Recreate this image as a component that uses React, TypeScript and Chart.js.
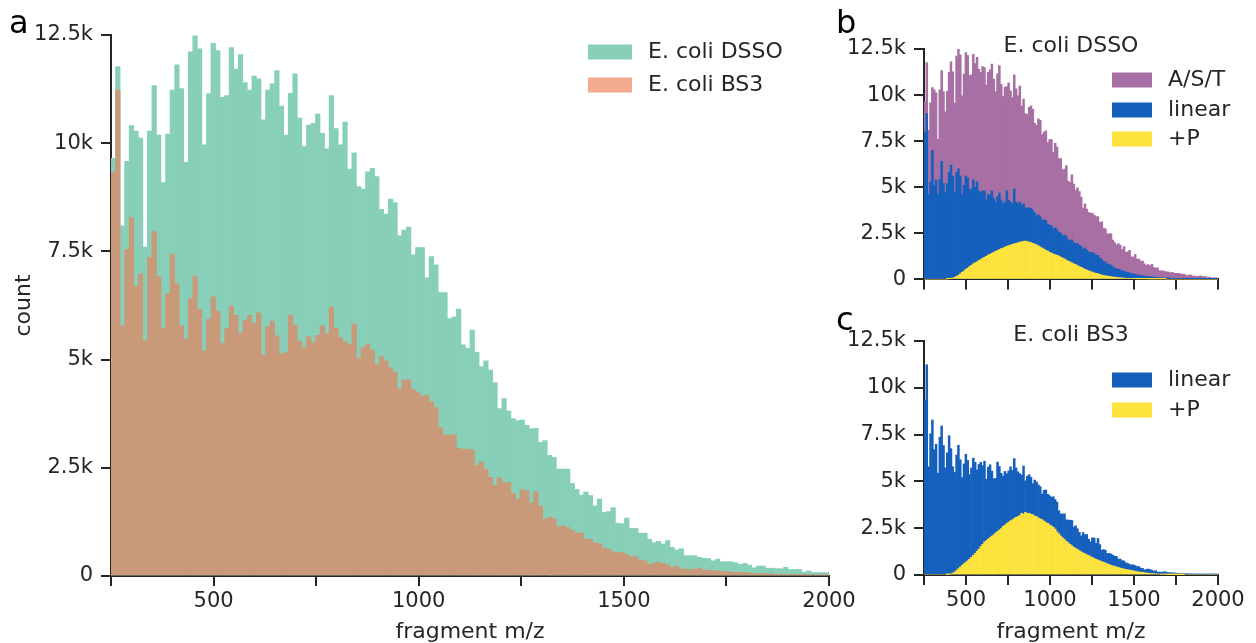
import React, { useEffect, useRef } from 'react';
import { Chart, registerables } from 'chart.js';

Chart.register(...registerables);

// ---------- data (counts in thousands, one value per m/z bin, bins span 250..2000) ----------
const BIN_MIN = 250;
const BIN_MAX = 2000;

const dssoTotal = [
  9.65, 11.77, 8.09, 9.58, 10.41, 10.28, 10.12, 7.6, 10.28, 11.33,
  10.19, 9.09, 10.21, 11.23, 11.81, 11.26, 9.56, 12.11, 12.48, 12.18,
  9.96, 11.14, 12.31, 12.14, 11.06, 11.1, 12.21, 11.71, 12.05, 11.4,
  11.23, 11.55, 11.49, 10.54, 11.23, 11.37, 11.68, 10.86, 10.19, 11.15,
  11.6, 10.58, 9.92, 10.42, 10.46, 10.67, 10.23, 9.87, 11.1, 10.34,
  9.96, 10.49, 9.4, 9.78, 9.0, 8.94, 9.34, 9.42, 9.23, 8.47,
  8.36, 8.71, 8.63, 7.86, 7.99, 8.06, 7.42, 7.59, 7.59, 6.89,
  7.38, 7.19, 6.55, 6.55, 5.95, 5.99, 6.17, 5.34, 5.26, 5.68,
  5.17, 4.84, 4.97, 4.76, 4.47, 3.87, 4.1, 3.81, 3.64, 3.59,
  3.6, 3.48, 3.4, 3.41, 3.09, 3.13, 2.79, 2.74, 2.47, 2.47,
  2.47, 2.14, 2.0, 1.87, 1.94, 1.86, 1.62, 1.78, 1.47, 1.49,
  1.58, 1.22, 1.21, 1.34, 1.1, 1.1, 0.99, 0.99, 0.85, 0.77,
  0.8, 0.74, 0.82, 0.66, 0.6, 0.63, 0.47, 0.47, 0.47, 0.43,
  0.41, 0.4, 0.35, 0.39, 0.33, 0.33, 0.33, 0.31, 0.27, 0.29,
  0.25, 0.19, 0.23, 0.23, 0.18, 0.18, 0.17, 0.17, 0.2, 0.15,
  0.15, 0.15, 0.09, 0.12, 0.08, 0.08, 0.08, 0.08,
];

const bs3Total = [
  9.34, 11.23, 5.78, 7.55, 8.28, 6.69, 6.99, 5.44, 7.36, 7.96,
  6.92, 5.72, 6.52, 7.44, 6.75, 5.78, 5.48, 6.41, 6.93, 6.16,
  5.2, 5.93, 6.45, 6.12, 5.37, 5.72, 6.24, 6.02, 5.61, 5.9,
  6.02, 5.84, 6.08, 5.11, 5.76, 5.89, 5.55, 5.14, 5.16, 6.03,
  5.8, 5.43, 5.28, 5.53, 5.4, 5.56, 5.78, 5.59, 6.22, 5.72,
  5.51, 5.41, 5.34, 5.82, 5.03, 5.28, 5.36, 5.22, 4.88, 5.07,
  4.97, 4.81, 4.72, 4.32, 4.53, 4.54, 4.31, 4.24, 4.16, 4.18,
  4.03, 3.89, 3.43, 3.26, 3.26, 3.27, 2.95, 2.93, 2.93, 2.91,
  2.56, 2.63, 2.47, 2.28, 2.09, 2.27, 2.16, 2.16, 1.91, 1.78,
  1.99, 1.97, 1.69, 1.95, 1.62, 1.32, 1.36, 1.32, 1.14, 1.16,
  1.12, 1.06, 1.0, 0.99, 0.85, 0.85, 0.77, 0.75, 0.65, 0.62,
  0.56, 0.54, 0.54, 0.5, 0.45, 0.45, 0.37, 0.35, 0.27, 0.3,
  0.32, 0.29, 0.26, 0.2, 0.23, 0.16, 0.16, 0.15, 0.16, 0.18,
  0.14, 0.13, 0.12, 0.12, 0.11, 0.1, 0.09, 0.08, 0.09, 0.08,
  0.07, 0.06, 0.06, 0.06, 0.05, 0.05, 0.04, 0.04, 0.04, 0.04,
  0.04, 0.04, 0.04, 0.03, 0.03, 0.03, 0.03, 0.03,
];

const dssoLinear = [
  8.0, 9.0, 4.6, 5.3, 7.0, 5.1, 5.4, 4.6, 5.4, 6.4,
  5.2, 4.7, 5.2, 5.8, 6.2, 5.6, 4.7, 5.8, 6.0, 5.6,
  4.6, 5.1, 5.6, 5.5, 4.9, 4.9, 5.4, 5.0, 5.3, 4.8,
  4.7, 4.8, 4.8, 4.3, 4.6, 4.6, 4.8, 4.4, 4.2, 4.5,
  4.7, 4.3, 4.1, 4.2, 4.8, 4.3, 4.2, 4.1, 4.9, 4.2,
  4.1, 4.2, 4.0, 4.1, 3.9, 3.85, 3.9, 3.85, 3.75, 3.6,
  3.45, 3.5, 3.4, 3.2, 3.25, 3.2, 3.0, 2.95, 2.9, 2.75,
  2.8, 2.7, 2.55, 2.5, 2.35, 2.4, 2.35, 2.15, 2.1, 2.15,
  2.0, 1.95, 1.95, 1.85, 1.8, 1.65, 1.7, 1.6, 1.5, 1.45,
  1.45, 1.4, 1.3, 1.3, 1.15, 1.1, 0.98, 0.95, 0.85, 0.82,
  0.78, 0.68, 0.62, 0.58, 0.55, 0.52, 0.46, 0.45, 0.4, 0.38,
  0.36, 0.31, 0.3, 0.28, 0.25, 0.24, 0.21, 0.2, 0.18, 0.16,
  0.16, 0.14, 0.14, 0.12, 0.11, 0.11, 0.1, 0.09, 0.09, 0.08,
  0.08, 0.07, 0.07, 0.06, 0.06, 0.06, 0.05, 0.05, 0.05, 0.04,
  0.04, 0.04, 0.04, 0.03, 0.03, 0.03, 0.03, 0.03, 0.02, 0.02,
  0.02, 0.02, 0.02, 0.02, 0.02, 0.01, 0.01, 0.01,
];

const dssoPlusP = [
  0, 0, 0, 0, 0, 0, 0, 0, 0, 0,
  0, 0, 0.01, 0.02, 0.04, 0.07, 0.11, 0.16, 0.22, 0.3,
  0.38, 0.45, 0.55, 0.62, 0.7, 0.76, 0.84, 0.9, 0.96, 1.02,
  1.08, 1.14, 1.2, 1.25, 1.32, 1.36, 1.42, 1.47, 1.52, 1.57,
  1.62, 1.67, 1.7, 1.75, 1.79, 1.83, 1.86, 1.9, 1.93, 1.96,
  1.99, 2.02, 2.04, 2.06, 2.08, 2.05, 2.03, 2.0, 1.96, 1.92,
  1.87, 1.82, 1.76, 1.7, 1.65, 1.58, 1.53, 1.47, 1.43, 1.38,
  1.34, 1.3, 1.26, 1.21, 1.16, 1.11, 1.05, 1.0, 0.95, 0.9,
  0.85, 0.8, 0.75, 0.7, 0.65, 0.6, 0.55, 0.51, 0.47, 0.43,
  0.4, 0.36, 0.33, 0.3, 0.27, 0.24, 0.22, 0.2, 0.18, 0.16,
  0.15, 0.13, 0.12, 0.11, 0.1, 0.09, 0.08, 0.07, 0.06, 0.06,
  0.05, 0.05, 0.04, 0.04, 0.03, 0.03, 0.03, 0.02, 0.02, 0.02,
  0.01, 0.01, 0.01, 0.01, 0.01, 0.01, 0.01, 0.01, 0.01, 0.01,
  0, 0, 0, 0, 0, 0, 0, 0, 0, 0,
  0, 0, 0, 0, 0, 0, 0, 0, 0, 0,
  0, 0, 0, 0, 0, 0, 0, 0,
];

const bs3PlusP = [
  0, 0, 0, 0, 0, 0, 0, 0, 0, 0,
  0, 0, 0.01, 0.03, 0.06, 0.1, 0.16, 0.24, 0.34, 0.42,
  0.52, 0.6, 0.68, 0.76, 0.85, 0.95, 1.05, 1.15, 1.27, 1.38,
  1.52, 1.64, 1.76, 1.84, 1.92, 2.0, 2.08, 2.15, 2.25, 2.32,
  2.4, 2.48, 2.6, 2.66, 2.75, 2.82, 2.9, 2.95, 3.02, 3.08,
  3.12, 3.18, 3.3, 3.25, 3.35, 3.28, 3.3, 3.24, 3.22, 3.15,
  3.12, 3.05, 3.0, 2.95, 2.88, 2.8, 2.76, 2.68, 2.62, 2.55,
  2.45, 2.3, 2.2, 2.08, 1.98, 1.9, 1.8, 1.72, 1.64, 1.56,
  1.48, 1.42, 1.36, 1.3, 1.24, 1.18, 1.14, 1.08, 1.04, 0.98,
  0.94, 0.88, 0.84, 0.8, 0.76, 0.72, 0.68, 0.64, 0.6, 0.56,
  0.52, 0.49, 0.46, 0.43, 0.4, 0.37, 0.34, 0.32, 0.3, 0.28,
  0.26, 0.24, 0.22, 0.2, 0.18, 0.16, 0.15, 0.14, 0.12, 0.11,
  0.1, 0.09, 0.08, 0.07, 0.06, 0.05, 0.05, 0.04, 0.04, 0.03,
  0.03, 0.02, 0.02, 0.02, 0.01, 0.01, 0.01, 0.01, 0.01, 0.01,
  0, 0, 0, 0, 0, 0, 0, 0, 0, 0,
  0, 0, 0, 0, 0, 0, 0, 0,
];

const xTickStep = 250;
const xLabelStep = 500;
const yMax = 12.5;
const yTickStep = 2.5;

// ---------- styles ----------
const FONT = "'DejaVu Sans', 'Liberation Sans', sans-serif";
const TEXT = '#262626';
const GREEN = '#88cfb9';
const ORANGE_BAR = '#c99a7a';
const ORANGE_PATCH = '#f2ab8f';
const PURPLE = '#a76fa3';
const BLUE = '#1660bd';
const YELLOW = '#fee23e';

function binPoints(values: number[]) {
  const w = (BIN_MAX - BIN_MIN) / values.length;
  return values.map((v, i) => ({ x: BIN_MIN + (i + 0.5) * w, y: v }));
}

function barDataset(label: string, values: number[], color: string) {
  return {
    label,
    data: binPoints(values),
    backgroundColor: color,
    borderWidth: 0,
    grouped: false,
    barPercentage: 1,
    categoryPercentage: 1,
  };
}

type LegendItem = { text: string; color: string };
type Overlay = {
  letter: string;
  letterPos: [number, number];
  title?: string;
  titlePos?: [number, number];
  legend: LegendItem[];
  legendX: number;
  legendY: number[];
  patchW: number;
  patchH: number;
};

function overlayPlugin(o: Overlay) {
  return {
    id: 'overlay',
    afterDraw(chart: any) {
      const ctx = chart.ctx as CanvasRenderingContext2D;
      ctx.save();
      ctx.fillStyle = '#000';
      ctx.font = `32px ${FONT}`;
      ctx.textAlign = 'left';
      ctx.textBaseline = 'alphabetic';
      ctx.fillText(o.letter, o.letterPos[0], o.letterPos[1]);
      ctx.fillStyle = TEXT;
      ctx.font = `22px ${FONT}`;
      if (o.title && o.titlePos) {
        ctx.textAlign = 'center';
        ctx.textBaseline = 'middle';
        ctx.fillText(o.title, o.titlePos[0], o.titlePos[1]);
      }
      o.legend.forEach((item, i) => {
        const cy = o.legendY[i];
        ctx.fillStyle = item.color;
        ctx.fillRect(o.legendX, cy - o.patchH / 2, o.patchW, o.patchH);
        ctx.fillStyle = TEXT;
        ctx.textAlign = 'left';
        ctx.textBaseline = 'middle';
        ctx.fillText(item.text, o.legendX + o.patchW + 16, cy);
      });
      ctx.restore();
    },
  };
}

function makeConfig(opts: {
  datasets: any[];
  xLabels: boolean;
  xTitle: boolean;
  yTitle: boolean;
  yWidth: number;
  xHeight: number;
  padding: { top: number; right: number };
  overlay: Overlay;
}) {
  const axisCommon = {
    border: { display: true, color: TEXT, width: 2 },
    grid: {
      display: true,
      drawOnChartArea: false,
      drawTicks: true,
      tickLength: 10,
      tickWidth: 2,
      lineWidth: 2,
      tickColor: TEXT,
      color: TEXT,
      offset: false,
    },
  };
  return {
    type: 'bar' as const,
    data: { datasets: opts.datasets },
    options: {
      animation: false,
      responsive: false,
      devicePixelRatio: 1,
      layout: { padding: { left: 0, top: opts.padding.top, right: opts.padding.right, bottom: 0 } },
      plugins: { legend: { display: false }, tooltip: { enabled: false }, title: { display: false } },
      scales: {
        x: {
          ...axisCommon,
          type: 'linear',
          min: BIN_MIN,
          max: BIN_MAX,
          offset: false,
          ticks: {
            stepSize: xTickStep,
            autoSkip: false,
            maxRotation: 0,
            minRotation: 0,
            padding: 3,
            color: TEXT,
            font: { family: FONT, size: 21 },
            callback: (v: number) => (opts.xLabels && v % xLabelStep === 0 ? String(v) : ''),
          },
          title: {
            display: opts.xTitle,
            text: 'fragment m/z',
            color: TEXT,
            font: { family: FONT, size: 22, lineHeight: 1 },
            padding: 0,
          },
          afterFit: (s: any) => {
            s.height = opts.xHeight;
          },
        },
        y: {
          ...axisCommon,
          type: 'linear',
          min: 0,
          max: yMax,
          ticks: {
            stepSize: yTickStep,
            padding: 8,
            color: TEXT,
            font: { family: FONT, size: 21 },
            callback: (v: number) => (v === 0 ? '0' : `${v}k`),
          },
          title: {
            display: opts.yTitle,
            text: 'count',
            color: TEXT,
            font: { family: FONT, size: 22, lineHeight: 1 },
            padding: { top: 13, bottom: 0 },
          },
          afterFit: (s: any) => {
            s.width = opts.yWidth;
          },
        },
      },
    },
    plugins: [overlayPlugin(opts.overlay)],
  };
}

function ChartCanvas(props: { left: number; top: number; width: number; height: number; make: () => any }) {
  const ref = useRef<HTMLCanvasElement>(null);
  useEffect(() => {
    if (!ref.current) return;
    const chart = new Chart(ref.current, props.make());
    return () => chart.destroy();
  }, []);
  return (
    <canvas
      ref={ref}
      width={props.width}
      height={props.height}
      style={{ position: 'absolute', left: props.left, top: props.top, width: props.width, height: props.height }}
    />
  );
}

export default function App() {
  const makeA = () =>
    makeConfig({
      datasets: [barDataset('E. coli BS3', bs3Total, ORANGE_BAR), barDataset('E. coli DSSO', dssoTotal, GREEN)],
      xLabels: true,
      xTitle: true,
      yTitle: true,
      yWidth: 111,
      xHeight: 67,
      padding: { top: 35, right: 31 },
      overlay: {
        letter: 'a',
        letterPos: [9, 33],
        legend: [
          { text: 'E. coli DSSO', color: GREEN },
          { text: 'E. coli BS3', color: ORANGE_PATCH },
        ],
        legendX: 588,
        legendY: [52, 85],
        patchW: 44,
        patchH: 15,
      },
    });

  const makeB = () =>
    makeConfig({
      datasets: [
        barDataset('+P', dssoPlusP, YELLOW),
        barDataset('linear', dssoLinear, BLUE),
        barDataset('A/S/T', dssoTotal, PURPLE),
      ],
      xLabels: false,
      xTitle: false,
      yTitle: false,
      yWidth: 94,
      xHeight: 15,
      padding: { top: 49, right: 38 },
      overlay: {
        letter: 'b',
        letterPos: [6, 33],
        title: 'E. coli DSSO',
        titlePos: [241, 46],
        legend: [
          { text: 'A/S/T', color: PURPLE },
          { text: 'linear', color: BLUE },
          { text: '+P', color: YELLOW },
        ],
        legendX: 282,
        legendY: [80, 110, 139],
        patchW: 40,
        patchH: 15,
      },
    });

  const makeC = () =>
    makeConfig({
      datasets: [barDataset('+P', bs3PlusP, YELLOW), barDataset('linear', bs3Total, BLUE)],
      xLabels: true,
      xTitle: true,
      yTitle: false,
      yWidth: 94,
      xHeight: 68,
      padding: { top: 41, right: 38 },
      overlay: {
        letter: 'c',
        letterPos: [6, 30],
        title: 'E. coli BS3',
        titlePos: [241, 35],
        legend: [
          { text: 'linear', color: BLUE },
          { text: '+P', color: YELLOW },
        ],
        legendX: 282,
        legendY: [80, 110],
        patchW: 40,
        patchH: 15,
      },
    });

  return (
    <div style={{ position: 'absolute', left: 0, top: 0, width: 1256, height: 643, background: '#fff', overflow: 'hidden' }}>
      <ChartCanvas left={0} top={0} width={860} height={643} make={makeA} />
      <ChartCanvas left={830} top={0} width={426} height={300} make={makeB} />
      <ChartCanvas left={830} top={300} width={426} height={343} make={makeC} />
    </div>
  );
}
